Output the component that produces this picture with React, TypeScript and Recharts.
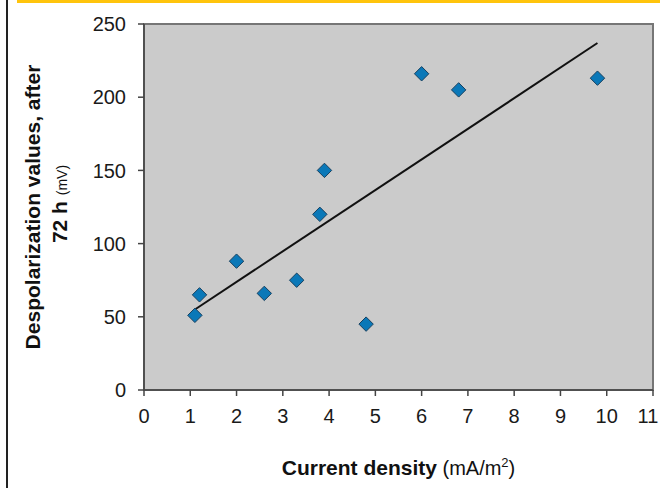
import React from "react";
import {
  ScatterChart,
  Scatter,
  XAxis,
  YAxis,
  ReferenceArea,
  Label,
} from "recharts";

const currentDensity = [1.1, 1.2, 2.0, 2.6, 3.3, 3.8, 3.9, 4.8, 6.0, 6.8, 9.8];
const depolarization = [51, 65, 88, 66, 75, 120, 150, 45, 216, 205, 213];
const trendX = [1.1, 9.8];
const trendY = [55, 237];
const xTicks = [0, 1, 2, 3, 4, 5, 6, 7, 8, 9, 10, 11];
const yTicks = [0, 50, 100, 150, 200, 250];

const points = currentDensity.map((x, i) => ({ x, y: depolarization[i] }));
const trend = trendX.map((x, i) => ({ x, y: trendY[i] }));

const FONT = "'Liberation Sans', Arial, sans-serif";
const TICK_SIZE = 20;

const Diamond = (props: any) => {
  const { cx, cy } = props;
  const r = 7.2;
  return (
    <polygon
      points={`${cx},${cy - r} ${cx + r},${cy} ${cx},${cy + r} ${cx - r},${cy}`}
      fill="#0a78b8"
      stroke="#17405f"
      strokeWidth={1}
    />
  );
};

const NoShape = () => <g />;

const XTick = (props: any) => {
  const { x, y, payload } = props;
  const isLast = payload.value === xTicks[xTicks.length - 1];
  return (
    <text
      x={isLast ? Math.min(x, 660 - 12) : x}
      y={y}
      dy="0.71em"
      textAnchor="middle"
      fill="#1a1a1a"
      fontSize={TICK_SIZE}
      fontFamily={FONT}
    >
      {payload.value}
    </text>
  );
};

const XTitle = (props: any) => {
  const vb = props.viewBox || {};
  const cx = vb.x + vb.width / 2;
  return (
    <text x={cx} y={475} textAnchor="middle" fontFamily={FONT} fill="#111" fontSize={20}>
      <tspan fontWeight="bold" fontSize={21}>Current density</tspan>
      <tspan> (mA/m</tspan>
      <tspan fontSize={13} dy={-8}>2</tspan>
      <tspan dy={8}>)</tspan>
    </text>
  );
};

const YTitle = () => {
  const cy = 207;
  return (
    <g fontFamily={FONT} fill="#111">
      <text
        x={40}
        y={cy}
        transform={`rotate(-90, 40, ${cy})`}
        textAnchor="middle"
        fontWeight="bold"
        fontSize={21}
      >
        Despolarization values, after
      </text>
      <text
        x={67}
        y={cy - 3}
        transform={`rotate(-90, 67, ${cy - 3})`}
        textAnchor="middle"
      >
        <tspan fontWeight="bold" fontSize={21}>72 h </tspan>
        <tspan fontSize={14}>(mV)</tspan>
      </text>
    </g>
  );
};

export default function App() {
  return (
    <div
      style={{
        position: "fixed",
        left: 0,
        top: 0,
        width: 660,
        height: 488,
        background: "#ffffff",
        overflow: "hidden",
      }}
    >
      <div
        style={{
          position: "absolute",
          left: 17,
          top: 0,
          width: 643,
          height: 3,
          background: "#ffc40c",
        }}
      />
      <div
        style={{
          position: "absolute",
          left: 6,
          top: 0,
          width: 1.5,
          height: 488,
          background: "#222",
        }}
      />
      <div style={{ position: "absolute", left: 0, top: 0 }}>
        <ScatterChart
          width={660}
          height={488}
          margin={{ top: 24, right: 7, left: 0, bottom: 0 }}
        >
          <ReferenceArea
            x1={0}
            x2={11}
            y1={0}
            y2={250}
            fill="#cbcbcb"
            fillOpacity={1}
            stroke="#767676"
            strokeWidth={2}
            ifOverflow="visible"
          />
          <XAxis
            type="number"
            dataKey="x"
            domain={[0, 11]}
            ticks={xTicks}
            interval={0}
            height={98}
            tickSize={6}
            tickMargin={13}
            stroke="#444"
            strokeWidth={1.5}
            tick={<XTick />}
            allowDataOverflow
          >
            <Label content={<XTitle />} />
          </XAxis>
          <YAxis
            type="number"
            dataKey="y"
            domain={[0, 250]}
            ticks={yTicks}
            interval={0}
            width={144}
            tickSize={6}
            tickMargin={12}
            stroke="#444"
            strokeWidth={1.5}
            tick={{ fill: "#1a1a1a", fontSize: TICK_SIZE, fontFamily: FONT }}
            allowDataOverflow
          >
            <Label content={<YTitle />} />
          </YAxis>
          <Scatter
            data={trend}
            line={{ stroke: "#111", strokeWidth: 2 }}
            shape={<NoShape />}
            isAnimationActive={false}
          />
          <Scatter
            data={points}
            shape={<Diamond />}
            isAnimationActive={false}
          />
        </ScatterChart>
      </div>
    </div>
  );
}
